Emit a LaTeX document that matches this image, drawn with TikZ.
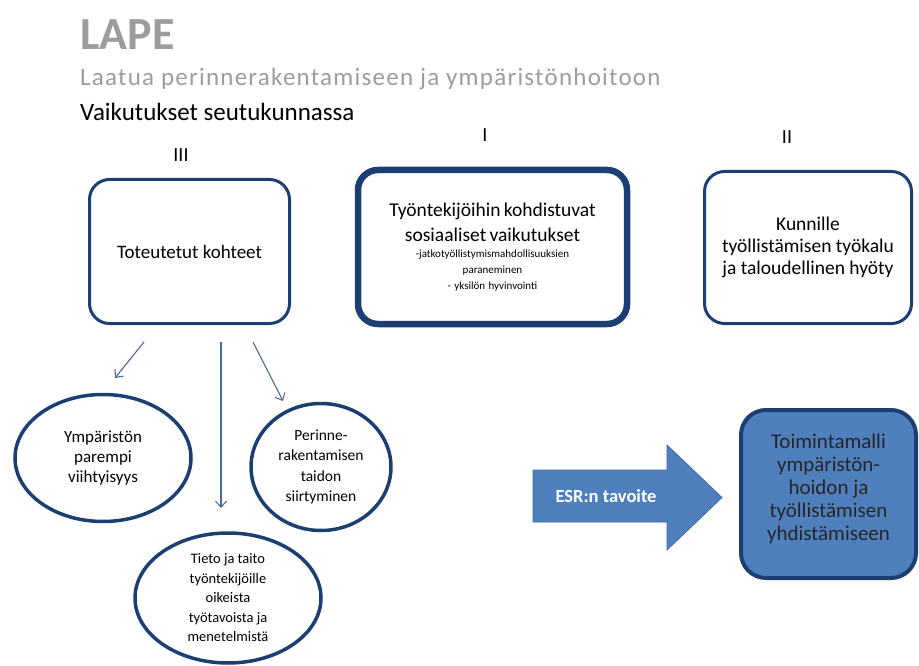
\documentclass[tikz,border=0pt]{standalone}
\usepackage{fontspec}
\setmainfont{Carlito}
\usetikzlibrary{shapes.geometric,arrows.meta}
\definecolor{navy}{HTML}{1B3F72}
\definecolor{steel}{HTML}{4F7FBC}
\definecolor{arrowgray}{HTML}{4A6A92}
\definecolor{titlegray}{HTML}{9C9C9C}
\begin{document}
\begin{tikzpicture}[x=1pt,y=-1pt,
    box/.style={draw=navy, line width=3pt, rounded corners=20pt, fill=white, align=center, inner sep=0pt},
    oval/.style={draw=navy, line width=3.5pt, ellipse, align=center, inner sep=0pt},
    link/.style={draw=arrowgray, line width=1.1pt, -{Straight Barb[length=6pt,width=11pt]}}]
    \useasboundingbox (0,0) rectangle (919,666);
    % headings
    \node [anchor=base west, inner sep=0pt, text=titlegray, font=\fontsize{46}{46}\selectfont\bfseries] (lape) at (80,50) {LAPE};
    \node [anchor=base west, inner sep=0pt, text=titlegray, font=\fontsize{25}{25}\selectfont\addfontfeature{LetterSpace=5}] (laatua) at (80,86) {Laatua perinnerakentamiseen ja ympäristönhoitoon};
    \node [anchor=base west, inner sep=0pt, font=\fontsize{25}{25}\selectfont] (vaik) at (80,121) {Vaikutukset seutukunnassa};
    \node [font=\fontsize{20}{20}\selectfont] (nIII) at (181,155) {III};
    \node [font=\fontsize{20}{20}\selectfont] (nI) at (485,135) {I};
    \node [font=\fontsize{20}{20}\selectfont] (nII) at (787,137) {II};
    % boxes
    \node [box, minimum width=200pt, minimum height=144pt, font=\fontsize{19}{22}\selectfont] (kohteet) at (189.5,251.5) {Toteutetut kohteet};
    \node [box, line width=6.5pt, minimum width=269pt, minimum height=154pt, text width=255pt] (sosiaaliset) at (492.5,247) {%
        {\fontsize{19.5}{25}\selectfont Työntekijöihin kohdistuvat\\ sosiaaliset vaikutukset\par}
        {\fontsize{11}{16}\selectfont -jatkotyöllistymismahdollisuuksien\\ paraneminen\\ - yksilön hyvinvointi\par}};
    \node [box, minimum width=207pt, minimum height=152pt, font=\fontsize{19.5}{22}\selectfont] (kunnille) at (808,247.5) {Kunnille\\ työllistämisen työkalu\\ ja taloudellinen hyöty};
    % ovals
    \node [oval, minimum width=176pt, minimum height=127pt, font=\fontsize{17}{20}\selectfont] (viihtyisyys) at (103,458) {Ympäristön\\ parempi\\ viihtyisyys};
    \node [oval, minimum width=140pt, minimum height=127pt, font=\fontsize{15.5}{20.5}\selectfont] (perinne) at (321,467) {Perinne-\\ rakentamisen\\ taidon\\ siirtyminen};
    \node [oval, minimum width=186pt, minimum height=130pt, font=\fontsize{14.5}{19.5}\selectfont] (tieto) at (228,598) {Tieto ja taito\\ työntekijöille\\ oikeista\\ työtavoista ja\\ menetelmistä};
    % connectors
    \coordinate (a1) at (144,342);
    \coordinate (b1) at (115,378);
    \coordinate (a2) at (221,342);
    \coordinate (b2) at (221,508);
    \coordinate (a3) at (253,342);
    \coordinate (b3) at (283,401);
    \draw [link] (a1) -- (b1);
    \draw [link] (a2) -- (b2);
    \draw [link] (a3) -- (b3);
    % target
    \draw [fill=steel, draw=steel!70!navy, line width=0.8pt] (533,470) -- (667,470) -- (667,445) -- (722,497.5) -- (667,550) -- (667,522) -- (533,522) -- cycle;
    \node [text=white, font=\fontsize{18.5}{18.5}\selectfont\bfseries] (esr) at (606,496) {ESR:n tavoite};
    \node [box, fill=steel, line width=4pt, rounded corners=25pt, minimum width=175pt, minimum height=168pt, text=black!85, font=\fontsize{21}{23}\selectfont] (malli) at (828.5,494) {Toimintamalli\\ ympäristön-\\ hoidon ja\\ työllistämisen\\ yhdistämiseen\\[-10pt]};
\end{tikzpicture}
\end{document}
